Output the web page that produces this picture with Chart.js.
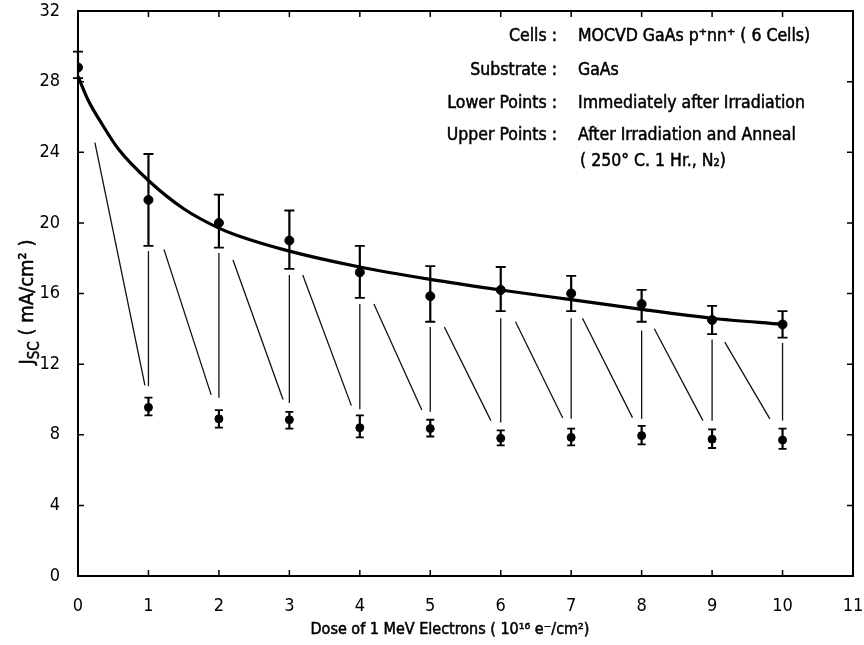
<!DOCTYPE html>
<html>
<head>
<meta charset="utf-8">
<script src="https://cdn.jsdelivr.net/npm/chart.js@4"></script>
<style>
  html, body { margin: 0; padding: 0; background: #fff; }
  #wrap { width: 864px; height: 645px; position: relative; }
</style>
</head>
<body>
<div id="wrap"><canvas id="chart"></canvas></div>
<script>
// Jsc of MOCVD GaAs cells vs 1 MeV electron dose (irradiated / annealed)

const FONT = "'Liberation Sans Narrow', 'DejaVu Sans Condensed', sans-serif";

// upper points: after irradiation and anneal
const annealX = [0, 1, 2, 3, 4, 5, 6, 7, 8, 9, 10];
const annealY = [28.8, 21.3, 20.0, 19.0, 17.2, 15.85, 16.2, 16.0, 15.4, 14.5, 14.25];
const annealLow = [28.2, 18.7, 18.6, 17.4, 15.75, 14.4, 15.0, 15.0, 14.4, 13.7, 13.5];
const annealHigh = [29.7, 23.9, 21.6, 20.7, 18.7, 17.55, 17.5, 17.0, 16.2, 15.3, 15.0];

// lower points: immediately after irradiation
const irradX = [1, 2, 3, 4, 5, 6, 7, 8, 9, 10];
const irradY = [9.55, 8.9, 8.85, 8.4, 8.35, 7.8, 7.85, 7.95, 7.75, 7.7];
const irradLow = [9.1, 8.4, 8.35, 7.85, 7.9, 7.4, 7.4, 7.45, 7.25, 7.2];
const irradHigh = [10.1, 9.4, 9.3, 9.1, 8.85, 8.25, 8.35, 8.5, 8.3, 8.35];

// thin vertical recovery lines at each dose
const vertLow = [10.75, 10.1, 9.8, 9.45, 9.3, 8.7, 8.9, 8.9, 8.8, 8.8];
const vertHigh = [18.4, 18.3, 17.05, 15.4, 14.1, 14.6, 14.6, 13.9, 13.4, 13.2];

// thin diagonal degradation lines
const diagX0 = [0.24, 1.22, 2.2, 3.19, 4.2, 5.2, 6.21, 7.16, 8.18, 9.18];
const diagY0 = [24.55, 18.5, 17.9, 17.05, 15.4, 14.1, 14.4, 14.6, 14.0, 13.25];
const diagX1 = [0.95, 1.89, 2.91, 3.88, 4.88, 5.86, 6.88, 7.87, 8.87, 9.82];
const diagY1 = [10.8, 10.26, 10.0, 9.65, 9.4, 8.8, 8.95, 8.97, 8.8, 8.9];

// fitted curve through annealed points
const fitX = [0, 0.15, 0.34, 0.57, 1, 1.5, 2, 2.25, 3, 4, 5, 6, 7, 8, 9, 10];
const fitY = [28.3, 26.9, 25.6, 24.2, 22.4, 20.8, 19.7, 19.3, 18.4, 17.5, 16.8, 16.2, 15.65, 15.1, 14.6, 14.25];

const xTicks = [0, 1, 2, 3, 4, 5, 6, 7, 8, 9, 10, 11];
const yTicks = [0, 4, 8, 12, 16, 20, 24, 28, 32];

const notes = [
  ['Cells :', 'MOCVD GaAs p\u207Ann\u207A ( 6 Cells)'],
  ['Substrate :', 'GaAs'],
  ['Lower Points :', 'Immediately after Irradiation'],
  ['Upper Points :', 'After Irradiation and Anneal']
];
const noteExtra = '( 250\u00B0 C. 1 Hr., N\u2082)';

const zip = (xs, ys) => xs.map((x, i) => ({ x: x, y: ys[i] }));

function thinLine(pts) {
  return {
    type: 'line', data: pts, borderColor: '#111', borderWidth: 1.3,
    pointRadius: 0, showLine: true, fill: false, order: 5
  };
}

const datasets = [];
datasets.push({
  type: 'line', label: 'fit', data: zip(fitX, fitY),
  borderColor: '#000', borderWidth: 3.2, pointRadius: 0,
  cubicInterpolationMode: 'monotone', fill: false, order: 3
});
datasets.push({
  type: 'scatter', label: 'anneal', data: zip(annealX, annealY),
  backgroundColor: '#000', borderColor: '#000', pointRadius: 4.5, order: 1,
  errLow: annealLow, errHigh: annealHigh, capW: 5
});
datasets.push({
  type: 'scatter', label: 'irrad', data: zip(irradX, irradY),
  backgroundColor: '#000', borderColor: '#000', pointRadius: 4, order: 1,
  errLow: irradLow, errHigh: irradHigh, capW: 4
});
irradX.forEach((x, i) => {
  datasets.push(thinLine([{ x: x, y: vertLow[i] }, { x: x, y: vertHigh[i] }]));
  datasets.push(thinLine([{ x: diagX0[i], y: diagY0[i] }, { x: diagX1[i], y: diagY1[i] }]));
});

// error bars from the dataset arrays
const errorBars = {
  id: 'errorBars',
  afterDatasetsDraw(chart) {
    const ctx = chart.ctx, ys = chart.scales.y, xs = chart.scales.x;
    ctx.save();
    ctx.strokeStyle = '#000';
    chart.data.datasets.forEach(ds => {
      if (!ds.errLow) return;
      ds.data.forEach((p, i) => {
        const px = xs.getPixelForValue(p.x);
        const lo = ys.getPixelForValue(ds.errLow[i]);
        const hi = ys.getPixelForValue(ds.errHigh[i]);
        ctx.lineWidth = 2.2;
        ctx.beginPath();
        ctx.moveTo(px, lo); ctx.lineTo(px, hi);
        ctx.stroke();
        ctx.lineWidth = 1.8;
        ctx.beginPath();
        ctx.moveTo(px - ds.capW, lo); ctx.lineTo(px + ds.capW, lo);
        ctx.moveTo(px - ds.capW, hi); ctx.lineTo(px + ds.capW, hi);
        ctx.stroke();
      });
    });
    ctx.restore();
  }
};

// box frame with inward ticks on all four sides
const frame = {
  id: 'frame',
  afterDraw(chart) {
    const ctx = chart.ctx, a = chart.chartArea;
    const xs = chart.scales.x, ys = chart.scales.y;
    ctx.save();
    ctx.strokeStyle = '#000';
    ctx.lineWidth = 2;
    ctx.strokeRect(a.left, a.top, a.right - a.left, a.bottom - a.top);
    ctx.lineWidth = 1.5;
    ctx.beginPath();
    xTicks.forEach(v => {
      const px = xs.getPixelForValue(v);
      ctx.moveTo(px, a.bottom); ctx.lineTo(px, a.bottom - 6);
      ctx.moveTo(px, a.top); ctx.lineTo(px, a.top + 6);
    });
    yTicks.forEach(v => {
      const py = ys.getPixelForValue(v);
      ctx.moveTo(a.left, py); ctx.lineTo(a.left + 6, py);
      ctx.moveTo(a.right, py); ctx.lineTo(a.right - 6, py);
    });
    ctx.stroke();
    ctx.restore();
  }
};

// text with a hairline stroke, a bit heavier than regular
function heavyText(ctx, s, x, y) {
  ctx.fillText(s, x, y);
  ctx.strokeText(s, x, y);
}

// axis titles and the annotation block
const texts = {
  id: 'texts',
  afterDraw(chart) {
    const ctx = chart.ctx;
    ctx.save();
    ctx.fillStyle = '#000';
    ctx.strokeStyle = '#000';
    ctx.lineWidth = 0.5;
    ctx.textBaseline = 'middle';

    // y title: J_SC ( mA/cm2 )
    ctx.translate(28, 302);
    ctx.rotate(-Math.PI / 2);
    const big = '20px ' + FONT, small = '15px ' + FONT;
    const parts = [['J', big, 0], ['SC', small, 7], [' ( mA/cm\u00B2 )', big, 0]];
    let w = 0;
    parts.forEach(p => { ctx.font = p[1]; w += ctx.measureText(p[0]).width; });
    let cx = -w / 2;
    ctx.textAlign = 'left';
    parts.forEach(p => {
      ctx.font = p[1];
      heavyText(ctx, p[0], cx, p[2]);
      cx += ctx.measureText(p[0]).width;
    });
    ctx.setTransform(1, 0, 0, 1, 0, 0);

    // x title
    ctx.font = '16px ' + FONT;
    ctx.textAlign = 'center';
    heavyText(ctx, 'Dose of 1 MeV Electrons ( 10\u00B9\u2076 e\u207B/cm\u00B2)', 450, 630);

    // annotation block
    const colonX = 557, valX = 578, rows = [36, 70, 103, 135];
    ctx.font = '17.5px ' + FONT;
    notes.forEach((n, i) => {
      ctx.textAlign = 'right';
      heavyText(ctx, n[0], colonX, rows[i]);
      ctx.textAlign = 'left';
      heavyText(ctx, n[1], valX, rows[i]);
    });
    ctx.textAlign = 'left';
    heavyText(ctx, noteExtra, valX + 2, 161);
    ctx.restore();
  }
};

// pin the plot area: no extra label overhang padding
function noPad(s) {
  s.paddingTop = 0; s.paddingBottom = 0;
  s.paddingLeft = 0; s.paddingRight = 0;
}

new Chart(document.getElementById('chart'), {
  data: { datasets: datasets },
  options: {
    responsive: true,
    maintainAspectRatio: false,
    animation: false,
    layout: { padding: { top: 11, right: 11, left: 0, bottom: 0 } },
    plugins: { legend: { display: false }, tooltip: { enabled: false } },
    scales: {
      x: {
        type: 'linear', min: 0, max: 11,
        grid: { display: false },
        border: { display: false },
        afterFit: s => { s.height = 69; noPad(s); },
        afterBuildTicks: s => { s.ticks = xTicks.map(v => ({ value: v })); },
        ticks: { color: '#000', padding: 12, font: { family: FONT, size: 18 } }
      },
      y: {
        type: 'linear', min: 0, max: 32,
        grid: { display: false },
        border: { display: false },
        afterFit: s => { s.width = 78; noPad(s); },
        afterBuildTicks: s => { s.ticks = yTicks.map(v => ({ value: v })); },
        ticks: { color: '#000', padding: 10, font: { family: FONT, size: 18 } }
      }
    }
  },
  plugins: [errorBars, frame, texts]
});
</script>
</body>
</html>
